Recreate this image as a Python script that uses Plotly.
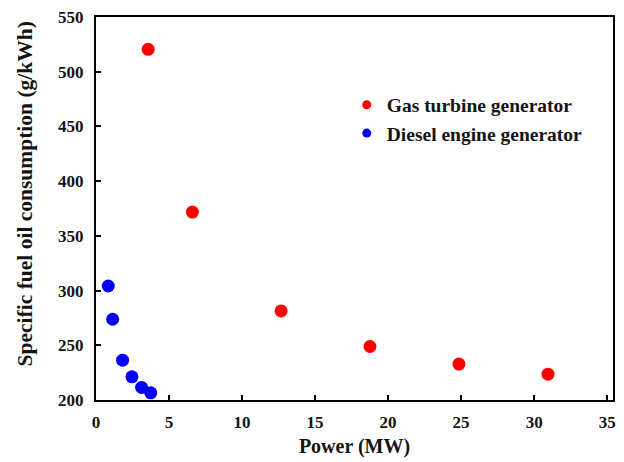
import plotly.graph_objects as go

gas_power = [3.57, 6.6, 12.67, 18.76, 24.85, 30.95]
gas_sfoc = [520.5, 371.7, 281.4, 248.9, 232.8, 223.6]
diesel_power = [0.84, 1.14, 1.82, 2.46, 3.12, 3.75]
diesel_sfoc = [304.2, 273.8, 236.4, 221.2, 211.5, 206.6]

series_names = ["Gas turbine generator", "Diesel engine generator"]
series_colors = ["#ff0000", "#0000ff"]
x_ticks = [0, 5, 10, 15, 20, 25, 30, 35]
y_ticks = [200, 250, 300, 350, 400, 450, 500, 550]
x_title = "Power (MW)"
y_title = "Specific fuel oil consumption (g/kWh)"

FONT = "Liberation Serif"
TXT = "#141414"

fig = go.Figure()
for xs, ys, name, col in [(gas_power, gas_sfoc, series_names[0], series_colors[0]),
                          (diesel_power, diesel_sfoc, series_names[1], series_colors[1])]:
    fig.add_trace(go.Scatter(x=xs, y=ys, mode="markers", showlegend=False,
                             marker=dict(color=col, size=13, line=dict(width=0))))
    fig.add_trace(go.Scatter(x=[None], y=[None], mode="markers", name="<b>" + name + "</b>",
                             legendgroup=name,
                             marker=dict(color=col, size=9, line=dict(width=0))))

axis_common = dict(showline=True, linewidth=2, linecolor="black", mirror=True,
                   ticks="inside", ticklen=5, tickwidth=2, tickcolor="black",
                   showgrid=False, zeroline=False,
                   tickfont=dict(family=FONT, size=17, color=TXT, weight="bold"))

fig.update_layout(
    width=624, height=462,
    margin=dict(l=96, r=8, t=17, b=61),
    paper_bgcolor="white", plot_bgcolor="white",
    font=dict(family=FONT, color=TXT),
    xaxis=dict(range=[0, 35.4], tickvals=x_ticks,
               ticktext=["<b>%d</b>" % v for v in x_ticks], ticklabelstandoff=6,
               title=dict(text="<b>" + x_title + "</b>", font=dict(family=FONT, size=20), standoff=8),
               **axis_common),
    yaxis=dict(range=[200, 550], tickvals=y_ticks,
               ticktext=["<b>%d</b>" % v for v in y_ticks], ticklabelstandoff=7,
               **axis_common),
    legend=dict(x=0.485, y=0.821, xanchor="left", yanchor="top",
                bgcolor="rgba(0,0,0,0)", tracegroupgap=0, traceorder="grouped",
                font=dict(family=FONT, size=19.5, color=TXT)),
)
fig.add_annotation(text="<b>" + y_title + "</b>", textangle=-90,
                   xref="paper", yref="paper", x=-0.1365, y=0.538,
                   xanchor="center", yanchor="middle", showarrow=False,
                   font=dict(family=FONT, size=21.5, color=TXT))

fig.write_html("out.html")
